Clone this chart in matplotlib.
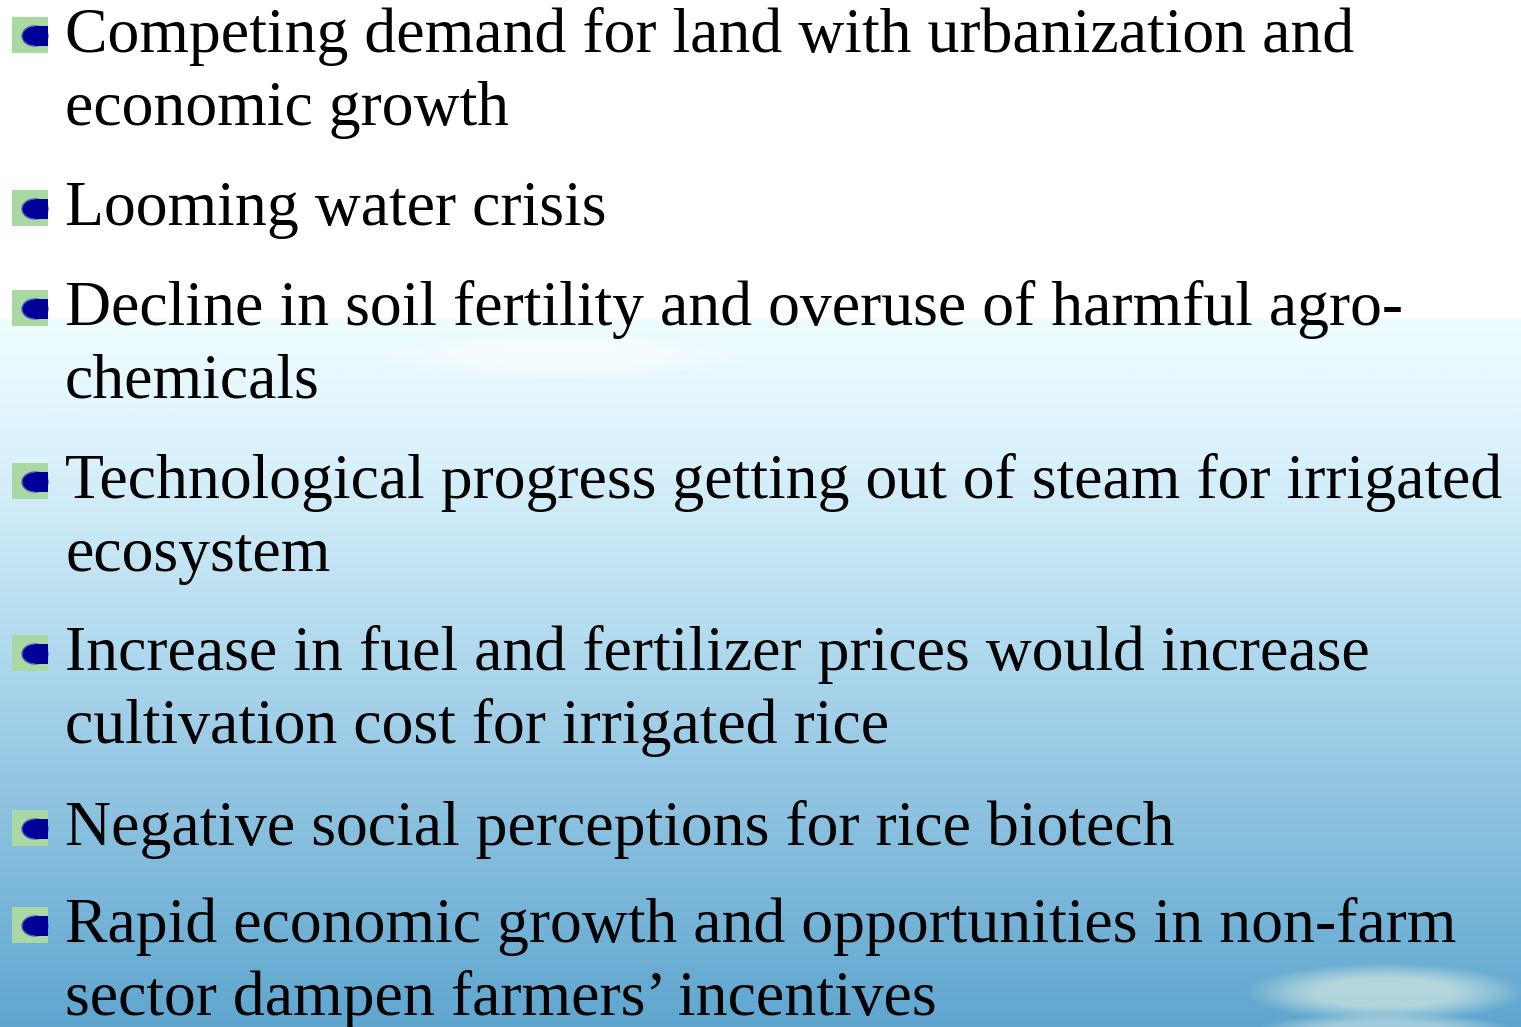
#!/usr/bin/env python3

import sys

import numpy as np
from matplotlib import pyplot, patches
from matplotlib.colors import LinearSegmentedColormap


W, H = 1521, 1027

# Bullet items, each a list of its wrapped lines
ITEMS = (
    ("Competing demand for land with urbanization and",
     "economic growth"),
    ("Looming water crisis",),
    ("Decline in soil fertility and overuse of harmful agro-",
     "chemicals"),
    ("Technological progress getting out of steam for irrigated",
     "ecosystem"),
    ("Increase in fuel and fertilizer prices would increase",
     "cultivation cost for irrigated rice"),
    ("Negative social perceptions for rice biotech",),
    ("Rapid economic growth and opportunities in non-farm",
     "sector dampen farmers\u2019 incentives"),
)

# Background gradient stops (fraction of the gradient height, colour)
SKY = (
    (0.00, '#effdff'),
    (0.20, '#d9f1fb'),
    (0.45, '#b3dbef'),
    (0.70, '#8cc2e0'),
    (1.00, '#5fa6cf'),
)

FONT = 'Liberation Serif'
FONT_SIZE = 45.95


def draw_background(axes):
    top = 318
    cmap = LinearSegmentedColormap.from_list('sky', [(p, c) for p, c in SKY])
    grad = np.linspace(0, 1, 400).reshape(-1, 1)
    axes.imshow(grad, cmap=cmap, aspect='auto',
                extent=(0, W, H, top), zorder=0)

    # soft blurred rice grains
    yy, xx = np.mgrid[0:H, 0:W]
    blobs = (
        # cx, cy, rx, ry, alpha, colour
        (560, 355, 170, 22, 0.55, (1.0, 1.0, 1.0)),
        (1385, 992, 125, 26, 0.75, (0.80, 0.90, 0.88)),
        (1385, 1030, 115, 16, 0.55, (0.85, 0.92, 0.90)),
    )
    for cx, cy, rx, ry, alpha, col in blobs:
        d = ((xx - cx) / rx) ** 2 + ((yy - cy) / ry) ** 2
        a = alpha * np.clip(1.3 - d, 0, 1) ** 1.2
        a[:top] = 0
        rgba = np.zeros((H, W, 4))
        rgba[..., :3] = col
        rgba[..., 3] = a
        axes.imshow(rgba, extent=(0, W, H, 0), aspect='auto', zorder=1)


def draw_bullet(axes, x, baseline):
    size = 36
    top = baseline - size
    axes.add_patch(patches.Rectangle((x, top), size, size,
                                     facecolor='#a9d8a2', edgecolor='none',
                                     zorder=3))
    # dark blue half-rounded blob on the right
    axes.add_patch(patches.Ellipse((x + 23, top + 19), 26, 20,
                                   facecolor='#000099', edgecolor='#4a5fb8',
                                   linewidth=1.0, zorder=4))
    axes.add_patch(patches.Rectangle((x + 23, top + 9), 13, 20,
                                     facecolor='#000099', edgecolor='none',
                                     zorder=5))


def plot(items):
    figure = pyplot.figure(figsize=(W / 100, H / 100), dpi=100)
    axes = figure.add_axes((0, 0, 1, 1))
    axes.set_xlim(0, W)
    axes.set_ylim(H, 0)
    axes.axis('off')

    draw_background(axes)

    first_baselines = (52, 225, 325, 498, 670, 845, 942)
    for lines, base in zip(items, first_baselines):
        draw_bullet(axes, 12, base + 1)
        for i, line in enumerate(lines):
            axes.text(65, base + i * 73, line, family=FONT,
                      fontsize=FONT_SIZE, color='black',
                      ha='left', va='baseline', zorder=6)

    figure.savefig('out.png', dpi=100)


def main() -> int:
    plot(ITEMS)
    return 0


if __name__ == '__main__':
    sys.exit(main())
